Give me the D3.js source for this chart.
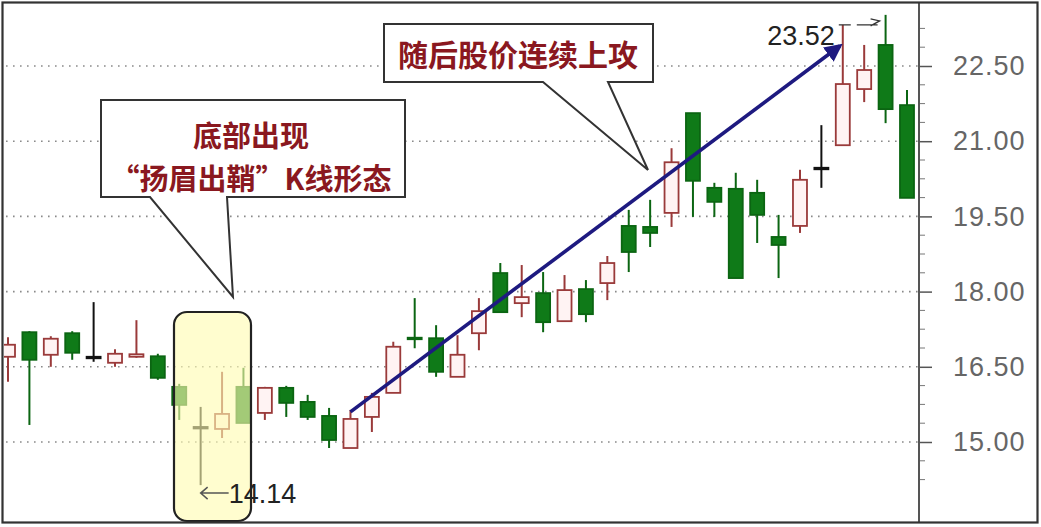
<!DOCTYPE html>
<html>
<head>
<meta charset="utf-8">
<script src="https://cdn.jsdelivr.net/npm/d3@7/dist/d3.min.js"></script>
<style>
  body { margin: 0; background: #fff; }
  svg { display: block; }
</style>
</head>
<body>
<div id="chart"></div>
<script>
// daily candles
const openP  = [16.70, 17.19, 16.74, 17.17, 16.70, 16.58, 16.70, 16.71, 16.10, 15.30, 15.26, 16.10, 15.58, 16.08, 15.80, 15.52, 14.88, 15.50, 15.98, 17.08, 17.07, 16.30, 17.17, 18.37, 17.77, 17.97, 17.41, 18.05, 18.17, 19.31, 19.29, 19.57, 21.56, 20.07, 20.05, 19.97, 19.09, 19.31, 20.47, 20.92, 22.04, 22.92, 21.72];
const highP  = [17.09, 17.21, 17.11, 17.21, 17.79, 16.85, 17.43, 16.76, 16.16, 15.70, 16.40, 16.48, 16.10, 16.12, 15.94, 15.68, 15.64, 15.98, 17.00, 17.87, 17.33, 17.13, 17.87, 18.57, 18.53, 18.39, 18.33, 18.23, 18.71, 19.63, 19.83, 20.86, 21.56, 20.17, 20.37, 20.23, 19.53, 20.43, 21.32, 23.32, 22.92, 23.52, 22.02];
const lowP   = [16.20, 15.34, 16.50, 16.64, 16.60, 16.50, 16.68, 16.24, 15.44, 14.14, 15.08, 15.38, 15.44, 15.50, 15.44, 14.88, 14.88, 15.20, 15.98, 16.87, 16.30, 16.30, 16.83, 17.59, 17.49, 17.19, 17.41, 17.39, 17.83, 18.39, 18.89, 19.29, 19.49, 19.49, 18.27, 18.97, 18.27, 19.17, 20.07, 20.92, 21.78, 21.36, 19.87];
const closeP = [16.94, 16.64, 17.06, 16.78, 16.70, 16.76, 16.75, 16.28, 15.74, 15.30, 15.56, 15.38, 16.08, 15.78, 15.50, 15.04, 15.46, 15.90, 16.90, 17.06, 16.40, 16.74, 17.61, 17.59, 17.89, 17.39, 18.03, 17.55, 18.57, 18.79, 19.17, 20.58, 20.21, 19.79, 18.27, 19.53, 18.93, 20.23, 20.47, 22.14, 22.42, 21.64, 19.87];

const yTicks = [15.00, 16.50, 18.00, 19.50, 21.00, 22.50];
const lowLabel = "14.14";
const highLabel = "23.52";
const note1 = ["底部出现", "“扬眉出鞘”K线形态"];
const note2 = "随后股价连续上攻";

const W = 1041, H = 527;
const idx = d3.range(openP.length);

const svg = d3.select("#chart").append("svg")
    .attr("width", W)
    .attr("height", H);

const x = d3.scalePoint()
    .domain(idx)
    .range([8, 907]);

const y = d3.scaleLinear()
    .domain([15, 22.5])
    .range([442, 66]);

const axisX = 919;

svg.append("clipPath").attr("id", "plot")
  .append("rect")
    .attr("x", 4).attr("y", 4)
    .attr("width", axisX - 4).attr("height", H - 8);

// dotted grid
svg.append("g")
  .selectAll("line")
  .data(yTicks)
  .join("line")
    .attr("x1", 6)
    .attr("x2", axisX)
    .attr("y1", d => y(d))
    .attr("y2", d => y(d))
    .attr("stroke", "#8a8a8a")
    .attr("stroke-width", 1.6)
    .attr("stroke-dasharray", "1.6,5.4");

// right price axis
const minorTicks = d3.range(14.25, 23.6, 0.375).filter(v => !yTicks.includes(+v.toFixed(3)));
const yAxis = g => g
    .attr("transform", `translate(${axisX},0)`)
    .call(d3.axisRight(y).tickValues(yTicks).tickSize(13).tickFormat(d3.format(".2f")))
    .call(g => g.select(".domain").remove())
    .call(g => g.selectAll(".tick line").attr("stroke", "#555").attr("stroke-width", 1.5))
    .call(g => g.selectAll(".tick text")
        .attr("x", 34)
        .attr("fill", "#666")
        .style("font", "27px 'Liberation Sans', Arial, sans-serif")
        .style("letter-spacing", "1px"));

svg.append("g").call(yAxis);

svg.append("g")
  .selectAll("line")
  .data(minorTicks)
  .join("line")
    .attr("x1", axisX)
    .attr("x2", axisX + 6)
    .attr("y1", d => y(d))
    .attr("y2", d => y(d))
    .attr("stroke", "#777")
    .attr("stroke-width", 1);

svg.append("line")
    .attr("x1", axisX).attr("x2", axisX)
    .attr("y1", 3).attr("y2", H - 4)
    .attr("stroke", "#555")
    .attr("stroke-width", 2);

// candles
const upStroke = "#9a3a3a", upFill = "#fff3f3";
const downFill = "#0f7a18", downStroke = "#0b6512";
const colorOf = i => closeP[i] > openP[i] ? upStroke : closeP[i] < openP[i] ? downStroke : "#111";
const bodyW = 14;

const candles = svg.append("g")
    .attr("clip-path", "url(#plot)")
  .selectAll("g")
  .data(idx)
  .join("g");

candles.append("line")
    .attr("x1", i => x(i))
    .attr("x2", i => x(i))
    .attr("y1", i => y(highP[i]))
    .attr("y2", i => y(lowP[i]))
    .attr("stroke", colorOf)
    .attr("stroke-width", 2);

candles.append("rect")
    .attr("x", i => x(i) - bodyW / 2)
    .attr("y", i => y(Math.max(openP[i], closeP[i])))
    .attr("width", bodyW)
    .attr("height", i => Math.max(1.5, Math.abs(y(openP[i]) - y(closeP[i]))))
    .attr("fill", i => closeP[i] > openP[i] ? upFill : closeP[i] < openP[i] ? downFill : "#111")
    .attr("stroke", colorOf)
    .attr("stroke-width", 1.8);

// highlighted bottom pattern
const hiBox = { x0: 174, x1: 251, y0: 312, y1: 521 };
svg.append("rect")
    .attr("x", hiBox.x0).attr("y", hiBox.y0)
    .attr("width", hiBox.x1 - hiBox.x0).attr("height", hiBox.y1 - hiBox.y0)
    .attr("rx", 13)
    .attr("fill", "#fffbb2")
    .attr("fill-opacity", 0.62)
    .attr("stroke", "#222")
    .attr("stroke-width", 2.2);

// low annotation
const lowI = lowP.indexOf(d3.min(lowP));
const lowY = y(lowP[lowI]) + 8;
svg.append("path")
    .attr("d", `M${x(lowI) + 28},${lowY} H${x(lowI)} M${x(lowI) + 7},${lowY - 6} L${x(lowI)},${lowY} L${x(lowI) + 7},${lowY + 6}`)
    .attr("fill", "none")
    .attr("stroke", "#555")
    .attr("stroke-width", 1.5);
svg.append("text")
    .attr("x", x(lowI) + 28)
    .attr("y", lowY + 10)
    .text(lowLabel)
    .attr("fill", "#222")
    .style("font", "27px 'Liberation Sans', Arial, sans-serif");

// high annotation
const highI = highP.indexOf(d3.max(highP));
const peakY = y(highP[highI - 2]);
svg.append("path")
    .attr("d", `M${x(highI - 2) - 4},${peakY} H${x(highI - 2) + 8} M${x(highI - 2) + 14},${peakY} H${x(highI) - 8} M${x(highI) - 15},${peakY - 6} L${x(highI) - 6},${peakY - 4} L${x(highI) - 15},${peakY + 1}`)
    .attr("fill", "none")
    .attr("stroke", "#333")
    .attr("stroke-width", 1.3);
svg.append("text")
    .attr("x", x(highI - 2) - 8)
    .attr("y", peakY + 20)
    .attr("text-anchor", "end")
    .text(highLabel)
    .attr("fill", "#222")
    .style("font", "27px 'Liberation Sans', Arial, sans-serif");

// trend arrow
svg.append("defs").append("marker")
    .attr("id", "head")
    .attr("viewBox", "0 0 10 10")
    .attr("refX", 8).attr("refY", 5)
    .attr("markerWidth", 5).attr("markerHeight", 5)
    .attr("orient", "auto")
  .append("path")
    .attr("d", "M0,0 L10,5 L0,10 Z")
    .attr("fill", "#1e1a80");

svg.append("line")
    .attr("x1", x(16)).attr("y1", y(15.64) + 2)
    .attr("x2", x(39) - 3).attr("y2", y(22.5) - 20)
    .attr("stroke", "#1e1a80")
    .attr("stroke-width", 3.6)
    .attr("marker-end", "url(#head)");

// callouts
const callout = (d, lines, cx, ys, fs) => {
  svg.append("path")
      .attr("d", d)
      .attr("fill", "#fff")
      .attr("stroke", "#333")
      .attr("stroke-width", 2);
  lines.forEach((t, k) => {
    svg.append("text")
        .attr("x", cx)
        .attr("y", ys[k])
        .attr("text-anchor", "middle")
        .text(t)
        .attr("fill", "#8a1820")
        .style("font", `bold ${fs}px 'Noto Sans CJK SC', sans-serif`);
  });
};

callout("M101,100 H405 V197 H227 L233,297 L150,197 H101 Z", note1, 251, [147, 190], 29);
callout("M384,24 H653 V82 H608 L648,170 L543,82 H384 Z", [note2], 518, [66], 30);

// outer frame
svg.append("rect")
    .attr("x", 2.5).attr("y", 2.5)
    .attr("width", W - 6).attr("height", H - 7)
    .attr("fill", "none")
    .attr("stroke", "#333")
    .attr("stroke-width", 2.2);
</script>
</body>
</html>
